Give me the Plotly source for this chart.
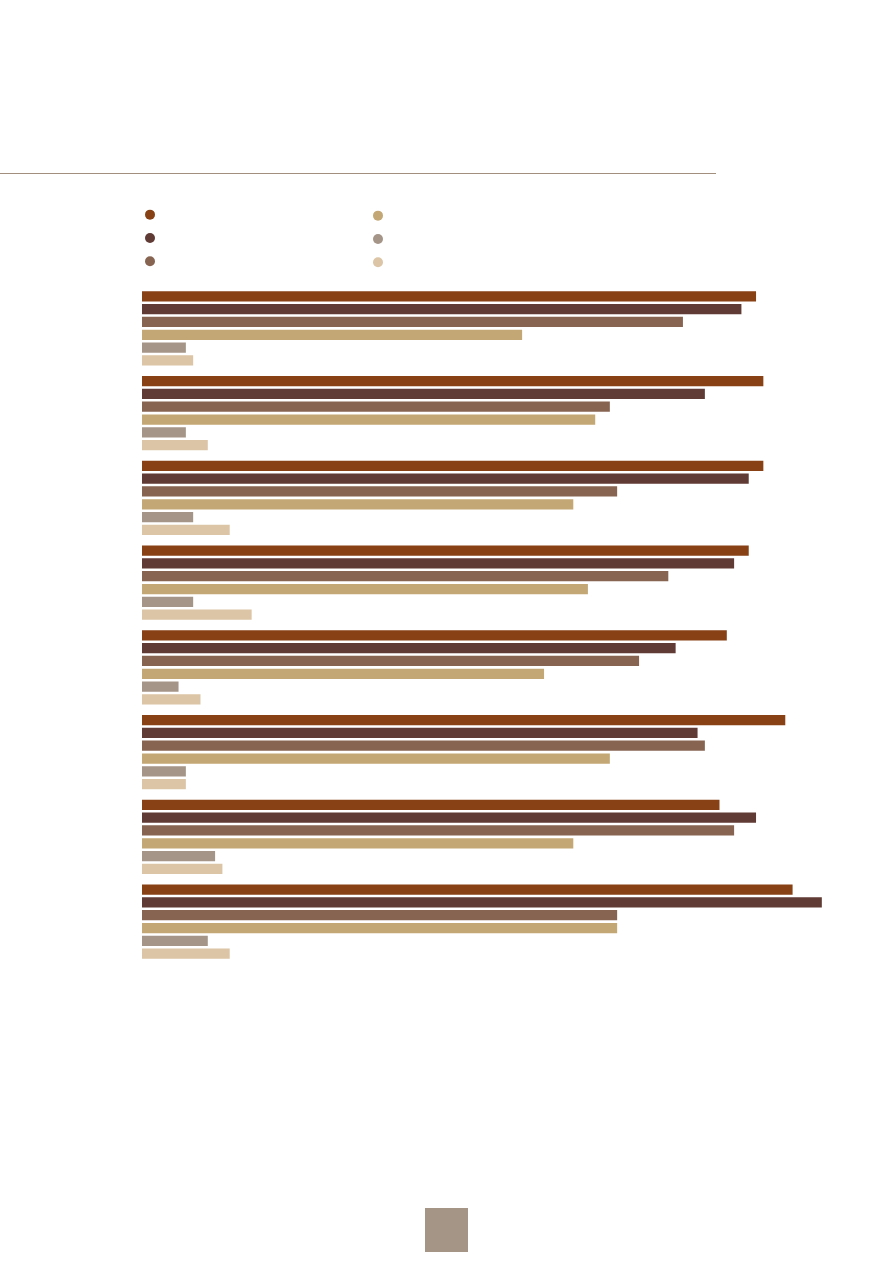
import plotly.graph_objects as go

categories = ["G1", "G2", "G3", "G4", "G5", "G6", "G7", "G8"]
series_names = ["", "", "", "", "", ""]
colors = ["#874114", "#603a35", "#876452", "#c3a775", "#a59588", "#dcc5a6"]

s1 = [84, 85, 85, 83, 80, 88, 79, 89]
s2 = [82, 77, 83, 81, 73, 76, 84, 93]
s3 = [74, 64, 65, 72, 68, 77, 81, 65]
s4 = [52, 62, 59, 61, 55, 64, 59, 65]
s5 = [6, 6, 7, 7, 5, 6, 10, 9]
s6 = [7, 9, 12, 15, 8, 6, 11, 12]
series = [s1, s2, s3, s4, s5, s6]

W, H = 893, 1263
ml, mr, mt, mb = 142, 20, 286, 299
pw = W - ml - mr
ph = H - mt - mb

def px_x(x):
    return (x - ml) / pw

def px_y(y):
    return (H - mb - y) / ph

fig = go.Figure()
for i, vals in enumerate(series):
    fig.add_trace(go.Bar(
        y=categories, x=vals, orientation="h",
        marker=dict(color=colors[i], line=dict(width=0)),
        showlegend=False, name=series_names[i], hoverinfo="x",
    ))

for i in range(6):
    fig.add_trace(go.Scatter(
        x=[None], y=[None], mode="markers", name=series_names[i],
        marker=dict(color=colors[i], size=10, symbol="circle"),
        legend="legend" if i < 3 else "legend2",
    ))

fig.update_layout(
    width=W, height=H,
    margin=dict(l=ml, r=mr, t=mt, b=mb),
    paper_bgcolor="white", plot_bgcolor="white",
    barmode="group", bargap=0.095, bargroupgap=0.2,
    xaxis=dict(range=[0, 100], visible=False, showgrid=False, zeroline=False),
    yaxis=dict(autorange="reversed", showticklabels=False, showgrid=False,
               zeroline=False, ticks=""),
    legend=dict(x=px_x(130), xanchor="left", y=px_y(198), yanchor="top",
                orientation="v", font=dict(size=15.6), bgcolor="rgba(0,0,0,0)",
                tracegroupgap=0),
    legend2=dict(x=px_x(358), xanchor="left", y=px_y(199), yanchor="top",
                 orientation="v", font=dict(size=15.6), bgcolor="rgba(0,0,0,0)",
                 tracegroupgap=0),
    shapes=[
        dict(type="line", xref="paper", yref="paper",
             x0=px_x(0), x1=px_x(716), y0=px_y(173.5), y1=px_y(173.5),
             line=dict(color="#a38f7e", width=1.2)),
        dict(type="rect", xref="paper", yref="paper",
             x0=px_x(425), x1=px_x(468), y0=px_y(1252), y1=px_y(1208),
             fillcolor="#a59586", line=dict(width=0)),
    ],
)

fig.write_html("out.html")
